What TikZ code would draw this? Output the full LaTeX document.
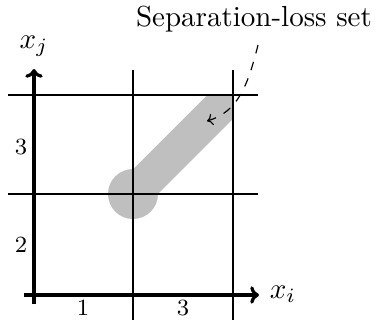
\documentclass[tikz,border=0pt]{standalone}
\usetikzlibrary{arrows.meta}
\begin{document}
\begin{tikzpicture}[x=0.3448pt,y=-0.3448pt,
  gridline/.style={line width=0.7pt},
  axisline/.style={line width=1.1pt,-{To[length=3pt,width=6pt]}},
  band/.style={line width=35*0.3448pt,color=gray!50},
  tick/.style={font=\footnotesize},
  lbl/.style={font=\normalsize}]
\useasboundingbox (0,0) rectangle (377,323);
% gray set
\begin{scope}
\clip (0,95) rectangle (233,323);
\fill[gray!50] (133,194) circle (25);
\draw[band] (133,194) -- (270,57);
\end{scope}
% grid
\draw[gridline] (133,70) -- (133,320);
\draw[gridline] (233,70) -- (233,320);
\draw[gridline] (8,95) -- (258,95);
\draw[gridline] (8,194) -- (258,194);
% axes
\coordinate (xs) at (24,295);
\coordinate (xe) at (259,295);
\coordinate (ys) at (34,304);
\coordinate (ye) at (34,69);
\draw[axisline] (xs) -- (xe);
\draw[axisline] (ys) -- (ye);
\node[lbl] (xi) at (283,294) {$x_i$};
\node[lbl] (xj) at (34,46) {$x_j$};
% ticks
\node[tick] (t1) at (83,308) {1};
\node[tick] (t2) at (183,308) {3};
\node[tick] (t3) at (21,147) {3};
\node[tick] (t4) at (21,245) {2};
% label
\node (sl) at (254,19) {Separation-loss set};
\coordinate (ds) at (258,45);
\coordinate (de) at (207,121);
\draw[dashed,line width=0.4pt,-{To[length=2pt,width=4pt]}] (ds) .. controls (248,85) and (238,112) .. (de);
\end{tikzpicture}
\end{document}
